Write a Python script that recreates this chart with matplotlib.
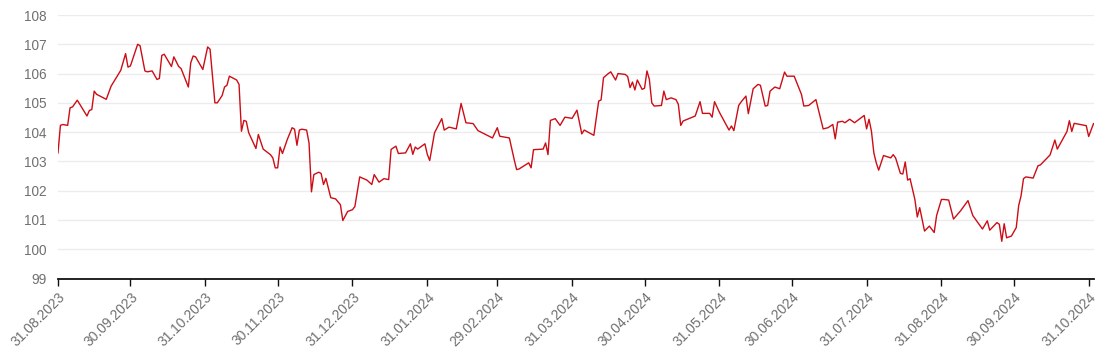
import matplotlib
matplotlib.use("Agg")
import matplotlib.pyplot as plt
import pandas as pd

dates = [
    "2023-08-31", "2023-09-01", "2023-09-02", "2023-09-04", "2023-09-05", "2023-09-06", "2023-09-08",
    "2023-09-12", "2023-09-13", "2023-09-14", "2023-09-15", "2023-09-16", "2023-09-20", "2023-09-22",
    "2023-09-26", "2023-09-28", "2023-09-29", "2023-09-30", "2023-10-03", "2023-10-04", "2023-10-06",
    "2023-10-07", "2023-10-09", "2023-10-11", "2023-10-12", "2023-10-13", "2023-10-14", "2023-10-17",
    "2023-10-18", "2023-10-20", "2023-10-21", "2023-10-24", "2023-10-25", "2023-10-26", "2023-10-27",
    "2023-10-30", "2023-11-01", "2023-11-02", "2023-11-04", "2023-11-05", "2023-11-07", "2023-11-08",
    "2023-11-09", "2023-11-10", "2023-11-13", "2023-11-14", "2023-11-15", "2023-11-16", "2023-11-17",
    "2023-11-18", "2023-11-21", "2023-11-22", "2023-11-24", "2023-11-27", "2023-11-28", "2023-11-29",
    "2023-11-30", "2023-12-01", "2023-12-02", "2023-12-04", "2023-12-06", "2023-12-07", "2023-12-08",
    "2023-12-09", "2023-12-10", "2023-12-12", "2023-12-13", "2023-12-14", "2023-12-15", "2023-12-17",
    "2023-12-18", "2023-12-19", "2023-12-20", "2023-12-22", "2023-12-24", "2023-12-26", "2023-12-27",
    "2023-12-29", "2023-12-31", "2024-01-01", "2024-01-03", "2024-01-06", "2024-01-08", "2024-01-09",
    "2024-01-11", "2024-01-13", "2024-01-15", "2024-01-16", "2024-01-18", "2024-01-19", "2024-01-22",
    "2024-01-24", "2024-01-25", "2024-01-26", "2024-01-27", "2024-01-30", "2024-01-31", "2024-02-01",
    "2024-02-03", "2024-02-06", "2024-02-07", "2024-02-09", "2024-02-12", "2024-02-14", "2024-02-16",
    "2024-02-19", "2024-02-21", "2024-02-27", "2024-02-29", "2024-03-01", "2024-03-05", "2024-03-07",
    "2024-03-08", "2024-03-09", "2024-03-13", "2024-03-14", "2024-03-15", "2024-03-19", "2024-03-20",
    "2024-03-21", "2024-03-22", "2024-03-24", "2024-03-26", "2024-03-28", "2024-03-31", "2024-04-02",
    "2024-04-04", "2024-04-05", "2024-04-09", "2024-04-11", "2024-04-12", "2024-04-13", "2024-04-15",
    "2024-04-16", "2024-04-18", "2024-04-19", "2024-04-22", "2024-04-23", "2024-04-24", "2024-04-25",
    "2024-04-26", "2024-04-27", "2024-04-29", "2024-04-30", "2024-05-01", "2024-05-02", "2024-05-03",
    "2024-05-04", "2024-05-07", "2024-05-08", "2024-05-09", "2024-05-11", "2024-05-12", "2024-05-13",
    "2024-05-14", "2024-05-15", "2024-05-16", "2024-05-21", "2024-05-23", "2024-05-24", "2024-05-27",
    "2024-05-28", "2024-05-29", "2024-05-31", "2024-06-04", "2024-06-05", "2024-06-06", "2024-06-08",
    "2024-06-09", "2024-06-11", "2024-06-12", "2024-06-14", "2024-06-16", "2024-06-17", "2024-06-19",
    "2024-06-20", "2024-06-21", "2024-06-23", "2024-06-25", "2024-06-27", "2024-06-28", "2024-07-01",
    "2024-07-04", "2024-07-05", "2024-07-07", "2024-07-10", "2024-07-13", "2024-07-15", "2024-07-17",
    "2024-07-18", "2024-07-19", "2024-07-21", "2024-07-22", "2024-07-24", "2024-07-26", "2024-07-30",
    "2024-07-31", "2024-08-01", "2024-08-02", "2024-08-03", "2024-08-04", "2024-08-05", "2024-08-07",
    "2024-08-10", "2024-08-11", "2024-08-12", "2024-08-14", "2024-08-15", "2024-08-16", "2024-08-17",
    "2024-08-18", "2024-08-20", "2024-08-21", "2024-08-22", "2024-08-24", "2024-08-26", "2024-08-28",
    "2024-08-29", "2024-08-31", "2024-09-01", "2024-09-03", "2024-09-05", "2024-09-08", "2024-09-11",
    "2024-09-13", "2024-09-17", "2024-09-19", "2024-09-20", "2024-09-23", "2024-09-24", "2024-09-25",
    "2024-09-26", "2024-09-27", "2024-09-29", "2024-10-01", "2024-10-02", "2024-10-03", "2024-10-04",
    "2024-10-05", "2024-10-08", "2024-10-10", "2024-10-11", "2024-10-15", "2024-10-17", "2024-10-18",
    "2024-10-22", "2024-10-23", "2024-10-24", "2024-10-25", "2024-10-30", "2024-10-31", "2024-11-02",
]

values = [
    103.29, 104.23, 104.26, 104.23, 104.83, 104.86, 105.09,
    104.55, 104.74, 104.77, 105.40, 105.29, 105.12, 105.57,
    106.11, 106.68, 106.22, 106.26, 107.00, 106.95, 106.09,
    106.06, 106.09, 105.80, 105.83, 106.62, 106.66, 106.24,
    106.57, 106.24, 106.17, 105.54, 106.37, 106.60, 106.57,
    106.14, 106.91, 106.83, 105.00, 105.00, 105.25, 105.54,
    105.60, 105.91, 105.78, 105.63, 104.03, 104.40, 104.37,
    103.98, 103.44, 103.92, 103.42, 103.23, 103.12, 102.78,
    102.78, 103.49, 103.27, 103.75, 104.15, 104.10, 103.55,
    104.07, 104.10, 104.07, 103.63, 101.96, 102.55, 102.63,
    102.59, 102.21, 102.42, 101.76, 101.72, 101.52, 100.98,
    101.29, 101.35, 101.46, 102.47, 102.36, 102.21, 102.55,
    102.29, 102.41, 102.38, 103.41, 103.52, 103.27, 103.29,
    103.60, 103.24, 103.49, 103.42, 103.60, 103.24, 103.03,
    103.98, 104.46, 104.07, 104.17, 104.11, 104.98, 104.32,
    104.29, 104.05, 103.80, 104.15, 103.86, 103.80, 103.06,
    102.72, 102.74, 102.95, 102.78, 103.40, 103.42, 103.63,
    103.23, 104.40, 104.46, 104.23, 104.51, 104.47, 104.75,
    103.94, 104.07, 103.89, 105.06, 105.10, 105.86, 106.00,
    106.06, 105.78, 106.00, 105.97, 105.90, 105.52, 105.71,
    105.44, 105.78, 105.46, 105.50, 106.09, 105.80, 105.00,
    104.89, 104.91, 105.40, 105.11, 105.17, 105.14, 105.11,
    104.95, 104.23, 104.38, 104.55, 105.04, 104.64, 104.64,
    104.51, 105.04, 104.68, 104.07, 104.21, 104.05, 104.91,
    105.03, 105.23, 104.63, 105.48, 105.63, 105.60, 104.89,
    104.91, 105.40, 105.54, 105.48, 106.05, 105.91, 105.91,
    105.29, 104.89, 104.91, 105.11, 104.11, 104.15, 104.26,
    103.77, 104.34, 104.37, 104.32, 104.44, 104.32, 104.57,
    104.11, 104.44, 104.03, 103.29, 102.95, 102.70, 103.20,
    103.12, 103.23, 103.12, 102.59, 102.57, 102.98, 102.36,
    102.41, 101.70, 101.10, 101.42, 100.62, 100.79, 100.57,
    101.15, 101.70, 101.70, 101.68, 101.03, 101.32, 101.66,
    101.15, 100.69, 100.97, 100.65, 100.91, 100.85, 100.27,
    100.87, 100.39, 100.45, 100.74, 101.49, 101.83, 102.41,
    102.47, 102.43, 102.85, 102.88, 103.22, 103.73, 103.42,
    104.02, 104.39, 104.02, 104.30, 104.22, 103.85, 104.29,
]

tick_dates = [
    "2023-08-31", "2023-09-30", "2023-10-31", "2023-11-30", "2023-12-31",
    "2024-01-31", "2024-02-29", "2024-03-31", "2024-04-30", "2024-05-31",
    "2024-06-30", "2024-07-31", "2024-08-31", "2024-09-30", "2024-10-31",
]
y_ticks = [99, 100, 101, 102, 103, 104, 105, 106, 107, 108]

x = pd.to_datetime(dates)
xt = pd.to_datetime(tick_dates)

W, H = 1111, 353
fig = plt.figure(figsize=(W / 100, H / 100), dpi=100)
left, right, top, bottom = 58, 1093.5, 15, 278.5
ax = fig.add_axes([left / W, 1 - bottom / H, (right - left) / W, (bottom - top) / H])

ax.plot(x, values, color="#cc0d16", linewidth=1.0, solid_joinstyle="round")

ax.set_ylim(99, 108)
ax.set_xlim(x[0], x[-1])
ax.set_yticks(y_ticks)
ax.set_xticks(xt)
ax.set_xticklabels([d.strftime("%d.%m.%Y") for d in xt])

ax.grid(axis="y", color="#ececec", linewidth=1.0)
ax.set_axisbelow(True)
for s in ["top", "right", "left"]:
    ax.spines[s].set_visible(False)
ax.spines["bottom"].set_color("#111111")
ax.spines["bottom"].set_linewidth(1.3)

ax.tick_params(axis="y", length=0, pad=8, labelsize=9.8, labelcolor="#707070")
ax.tick_params(axis="x", length=5, width=1.0, color="#111111", pad=3,
               labelsize=10, labelcolor="#707070")
for lab in ax.get_yticklabels():
    lab.set_fontfamily("Liberation Sans")
for lab in ax.get_xticklabels():
    lab.set_fontfamily("Liberation Sans")
    lab.set_rotation(45)
    lab.set_ha("right")
    lab.set_va("top")
    lab.set_rotation_mode("anchor")

fig.savefig("out.png", dpi=100)
